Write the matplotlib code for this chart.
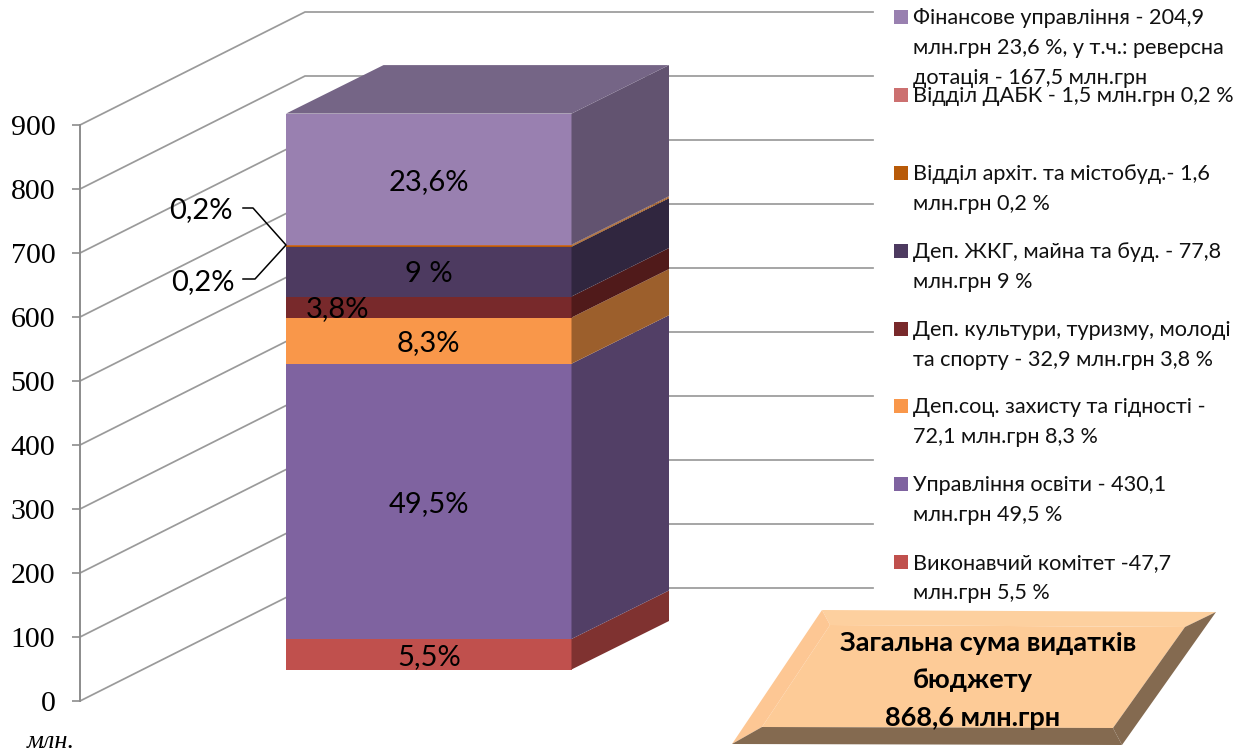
import matplotlib
matplotlib.use("Agg")
import matplotlib.pyplot as plt
from matplotlib.patches import Polygon, Rectangle

SANS = ['Lato', 'Noto Sans', 'DejaVu Sans']
SERIF = 'Liberation Serif'

# ---------- data ----------
segment_values = [47.7, 430.1, 72.1, 32.9, 77.8, 1.6, 1.5, 204.9]
segment_labels = ["5,5%", "49,5%", "8,3%", "3,8%", "9 %", "", "", "23,6%"]
front_colors = ["#C0504D", "#7F63A0", "#F9974A", "#78292B", "#4D3A60", "#B85A08", "#C8682C", "#9980B0"]
side_colors = ["#7F3230", "#523F66", "#9C5F2C", "#501A1A", "#30263F", "#A85A12", "#9A5A30", "#625370"]
top_color = "#756586"
y_ticks = [0, 100, 200, 300, 400, 500, 600, 700, 800, 900]
legend_colors = ["#9980B0", "#CC7070", "#B85A08", "#4D3A60", "#78292B", "#F9974A", "#7F63A0", "#C0504D"]
legend_lines = [
    ["Фінансове управління - 204,9", "млн.грн 23,6 %, у т.ч.: реверсна", "дотація - 167,5 млн.грн"],
    ["Відділ ДАБК - 1,5 млн.грн 0,2 %"],
    ["Відділ архіт. та містобуд.- 1,6", "млн.грн 0,2 %"],
    ["Деп. ЖКГ, майна та буд. - 77,8", "млн.грн 9 %"],
    ["Деп. культури, туризму, молоді", "та спорту - 32,9 млн.грн 3,8 %"],
    ["Деп.соц. захисту та гідності -", "72,1 млн.грн 8,3 %"],
    ["Управління освіти - 430,1", "млн.грн 49,5 %"],
    ["Виконавчий комітет -47,7", "млн.грн 5,5 %"],
]
total_lines = ["Загальна сума видатків", "бюджету", "868,6 млн.грн"]

# ---------- scale ----------
W, H = 1246, 755
PX = 0.64            # pixels per value unit
Y0 = 701             # pixel row of value 0 on the axis
AX_X = 80
fig = plt.figure(figsize=(W / 100, H / 100), dpi=100, facecolor="white")
ax = fig.add_axes([AX_X / W, 0, 1 - AX_X / W, 1])
ax.set_xlim(AX_X, W)
ax.set_ylim((Y0 - H) / PX, Y0 / PX)
ax.patch.set_alpha(0)
for s in ("top", "right", "bottom"):
    ax.spines[s].set_visible(False)
ax.spines["left"].set_bounds(y_ticks[0], y_ticks[-1])
ax.spines["left"].set_color("#8c8c8c")
ax.spines["left"].set_linewidth(1.4)
ax.set_xticks([])
ax.set_yticks(y_ticks)
ax.tick_params(axis="y", length=5.8, width=1.2, color="#8c8c8c", pad=12,
               labelsize=21.5, labelcolor="black")
for t in ax.get_yticklabels():
    t.set_family(SERIF)

# wall lines
WALL_DX, WALL_DY = 225, 113 / PX
WALL_END = 873
for v in y_ticks:
    ax.plot([AX_X, AX_X + WALL_DX, WALL_END], [v, v + WALL_DY, v + WALL_DY],
            color="#9a9a9a", lw=1.25, zorder=1, solid_joinstyle="miter")

# stacked bar
BAR_L, BAR_R = 286, 571.5
FRONT_OFF = (Y0 - 669.5) / PX
SIDE_DX, SIDE_DY = 97.5, 48.5 / PX
base = FRONT_OFF
bottoms = []
for val, fc, sc in zip(segment_values, front_colors, side_colors):
    bottoms.append(base)
    ax.bar((BAR_L + BAR_R) / 2, val, bottom=base, width=BAR_R - BAR_L, color=fc,
           linewidth=0, zorder=3)
    ax.add_patch(Polygon([(BAR_R, base), (BAR_R + SIDE_DX, base + SIDE_DY),
                          (BAR_R + SIDE_DX, base + val + SIDE_DY), (BAR_R, base + val)],
                         closed=True, facecolor=sc, edgecolor="none", zorder=3))
    base += val
ax.add_patch(Polygon([(BAR_L, base), (BAR_R, base), (BAR_R + SIDE_DX, base + SIDE_DY),
                      (BAR_L + SIDE_DX, base + SIDE_DY)],
                     closed=True, facecolor=top_color, edgecolor="none", zorder=3))

# segment labels
label_dx = {3: -91}
for i, (lab, val, b) in enumerate(zip(segment_labels, segment_values, bottoms)):
    if lab:
        ax.text((BAR_L + BAR_R) / 2 + label_dx.get(i, 0), b + val / 2 - 2.5 / PX, lab,
                ha="center", va="center", fontsize=21, family=SANS, color="black", zorder=5)

# overlay in pixel coordinates for annotations
deco = fig.add_axes([0, 0, 1, 1])
deco.set_xlim(0, W)
deco.set_ylim(H, 0)
deco.axis("off")

# callout for thin segments
deco.plot([243, 253, 286, 255, 243], [208, 208, 245, 279, 279], color="black", lw=1.1)
deco.text(201, 210, "0,2%", ha="center", va="center", fontsize=21, family=SANS)
deco.text(203, 282, "0,2%", ha="center", va="center", fontsize=21, family=SANS)

# axis unit
deco.text(51, 748, "млн.", ha="center", va="baseline", fontsize=19, family=SERIF, style="italic")

# legend
swatch_y = [17, 95, 173, 251, 329, 406, 484, 562]
LINE = 30
for y, col, lines in zip(swatch_y, legend_colors, legend_lines):
    deco.add_patch(Rectangle((894, y - 7), 14, 14, facecolor=col, edgecolor="none"))
    for j, line in enumerate(lines):
        deco.text(913, y + 1 + j * LINE, line, ha="left", va="center", fontsize=15.6,
                  family=SANS, color="#111111")

# bevelled total box
o = [(822, 610), (1216, 612), (1122, 745), (732, 744)]
n = [(830, 625), (1185, 627), (1113, 728), (762, 727)]
deco.add_patch(Polygon(n, facecolor="#FDCB97", edgecolor="none"))
deco.add_patch(Polygon([o[0], o[1], n[1], n[0]], facecolor="#FDD09F", edgecolor="none"))
deco.add_patch(Polygon([o[0], n[0], n[3], o[3]], facecolor="#FDC794", edgecolor="none"))
deco.add_patch(Polygon([o[1], o[2], n[2], n[1]], facecolor="#846A50", edgecolor="none"))
deco.add_patch(Polygon([n[3], n[2], o[2], o[3]], facecolor="#846A50", edgecolor="none"))
for (x, y), t in zip([(988, 643), (973, 680), (973, 718)], total_lines):
    deco.text(x, y, t, ha="center", va="center", fontsize=19.5, fontweight="bold", family=SANS,
              color="black")

fig.savefig("out.png", dpi=100)
